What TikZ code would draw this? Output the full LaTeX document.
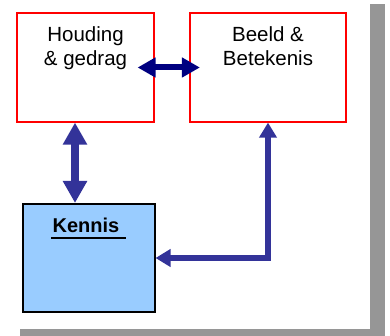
\documentclass[tikz,border=0pt]{standalone}
\usepackage{fontspec}
\setmainfont{Liberation Sans}
\usetikzlibrary{arrows.meta}
\usetikzlibrary{positioning,calc}
\definecolor{boxred}{RGB}{255,0,0}
\definecolor{navyarrow}{RGB}{0,0,128}
\definecolor{bluearrow}{RGB}{51,51,153}
\definecolor{kennisblue}{RGB}{153,204,255}
\definecolor{shadowgray}{RGB}{150,150,150}
\tikzset{
    state/.style={
           rectangle,
           draw=boxred, line width=1.2pt,
           minimum height=109pt,
           inner sep=0pt,
           },
    state2/.style={
           rectangle,
           draw=black, line width=2pt,
           fill=kennisblue,
           minimum width=131.5pt,
           minimum height=108pt,
           inner sep=0pt,
           },
    boxtext/.style={
           align=center,
           inner sep=0pt,
           font=\fontsize{20.5}{24}\selectfont,
           },
}

\begin{document}
\begin{tikzpicture}
\useasboundingbox (0,0) rectangle (390pt,-336pt);

 % shadow of the page
 \fill[shadowgray] (370pt,-4pt) rectangle (385pt,-336pt);
 \fill[shadowgray] (20pt,-329pt) rectangle (385pt,-336pt);

 % STATE HOUDING
 \node[state,
 minimum width=137pt] (HOUDING) at (85.5pt,-67.5pt) {};
 \node[boxtext,
 below=14pt of HOUDING.north] (HOUDING_TXT)
 {%
 Houding\\\& gedrag
 };

 % STATE BEELD
 \node[state,
 right of=HOUDING,
 node distance=182.5pt,
 minimum width=156pt] (BEELD) {};
 \node[boxtext,
 below=14pt of BEELD.north] (BEELD_TXT)
 {%
 Beeld \&\\Betekenis
 };

 % STATE KENNIS
 \node[state2,
 below of=HOUDING,
 node distance=190.5pt,
 xshift=3.25pt] (KENNIS) {};
 \node[boxtext,
 font=\fontsize{20}{24}\selectfont\bfseries,
 below=15pt of KENNIS.north] (KENNIS_TXT)
 {%
 Kennis
 };
 % underline of the title
 \draw[line width=2pt]
  ([xshift=-1pt,yshift=-5pt]KENNIS_TXT.south west) -- ([xshift=1pt,yshift=-5pt]KENNIS_TXT.south east);

 % draw the arrows between the boxes
 \draw[navyarrow, line width=6pt,
 {Triangle[width=19pt,length=18pt]}-{Triangle[width=19pt,length=18pt]},
 shorten <=-17pt, shorten >=-10.5pt]
  (HOUDING.east) -- (BEELD.west);
 \draw[bluearrow, line width=8pt,
 {Triangle[width=23pt,length=22pt]}-{Triangle[width=23pt,length=22pt]}]
  ([xshift=-10.5pt]HOUDING.south) -- ([xshift=-10.5pt]HOUDING.south |- KENNIS.north);
 \draw[bluearrow, line width=6pt,
 {Triangle[width=17pt,length=15pt]}-{Triangle[width=17pt,length=15pt]}]
  (KENNIS.east) -| (BEELD.south);

\end{tikzpicture}
\end{document}
